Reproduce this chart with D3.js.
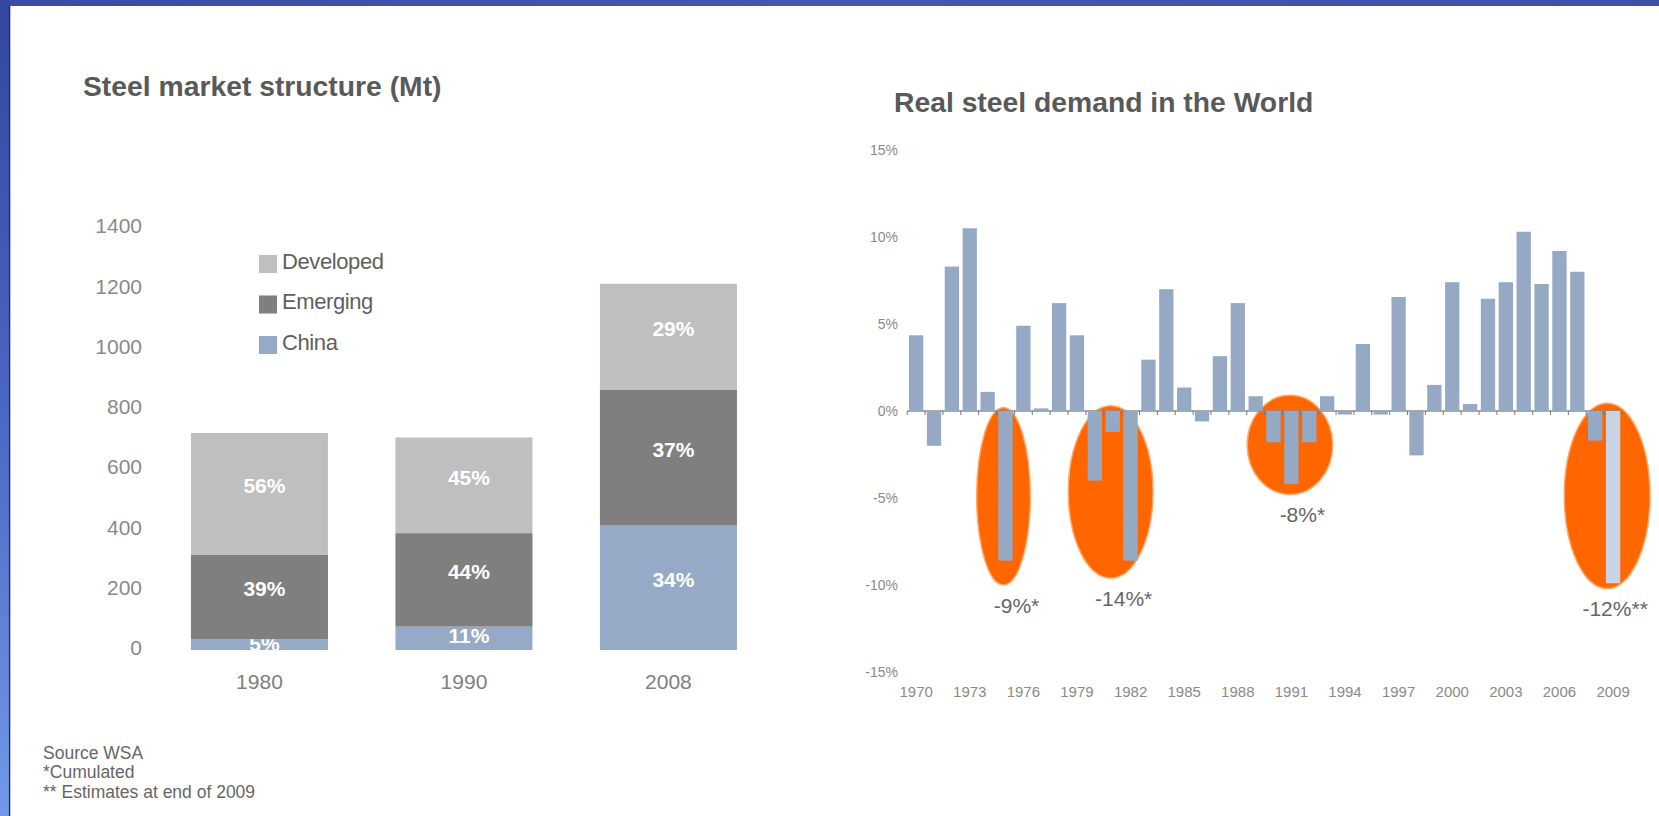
<!DOCTYPE html>
<html>
<head>
<meta charset="utf-8">
<script src="https://cdn.jsdelivr.net/npm/d3@7"></script>
<style>
  html, body { margin: 0; padding: 0; background: #fff; overflow: hidden; }
  svg { display: block; }
  text { font-family: "Liberation Sans", Arial, Helvetica, sans-serif; }
</style>
</head>
<body>
<svg id="chart" width="1659" height="816"></svg>
<script>
// ---------- Steel market structure (Mt) ----------
const marketYears = ["1980", "1990", "2008"];
const marketTotals = [720, 705, 1215];            // Mt
const chinaShare = [5, 11, 34];                   // % of total
const emergingShare = [39, 44, 37];
const developedShare = [56, 45, 29];
const marketTicks = [0, 200, 400, 600, 800, 1000, 1200, 1400];
const marketSeries = ["China", "Emerging", "Developed"];   // bottom to top
const legendOrder = ["Developed", "Emerging", "China"];

// ---------- Real steel demand in the World (annual % change) ----------
const demandYears = [1970, 1971, 1972, 1973, 1974, 1975, 1976, 1977, 1978, 1979,
                     1980, 1981, 1982, 1983, 1984, 1985, 1986, 1987, 1988, 1989,
                     1990, 1991, 1992, 1993, 1994, 1995, 1996, 1997, 1998, 1999,
                     2000, 2001, 2002, 2003, 2004, 2005, 2006, 2007, 2008, 2009];
const demandChange = [4.35, -2.0, 8.3, 10.5, 1.1, -8.6, 4.9, 0.15, 6.2, 4.35,
                      -4.0, -1.2, -8.6, 2.95, 7.0, 1.35, -0.6, 3.15, 6.2, 0.85,
                      -1.8, -4.2, -1.8, 0.85, -0.2, 3.85, -0.2, 6.55, -2.55, 1.5,
                      7.4, 0.4, 6.45, 7.4, 10.3, 7.3, 9.2, 8.0, -1.7, -9.9];
const estimateYears = [2009];
const yearTicks = [1970, 1973, 1976, 1979, 1982, 1985, 1988, 1991, 1994, 1997, 2000, 2003, 2006, 2009];
const pctTicks = [-15, -10, -5, 0, 5, 10, 15];
const crisisYears = [[1975], [1980, 1981, 1982], [1990, 1991, 1992], [2008, 2009]];
const crisisMarks = ["*", "*", "*", "**"];

const footnotes = ["Source WSA", "*Cumulated", "** Estimates at end of 2009"];

// highlight ellipse styling (in band steps / percentage points)
const haloPad = [1.1, 0.97, 0.99, 1.5];
const haloShift = [-2, -2, -1.5, 3];
const haloRise = [0.2, 0.3, 0.9, 0.45];
const haloDrop = [1.4, 1.0, 0.6, 0.3];

const svg = d3.select("#chart");

// ---------- slide frame ----------
const defs = svg.append("defs");
const lg = defs.append("linearGradient").attr("id", "sideGrad")
  .attr("x1", 0).attr("y1", 0).attr("x2", 0).attr("y2", 1);
lg.append("stop").attr("offset", 0).attr("stop-color", "#34469f");
lg.append("stop").attr("offset", 0.5).attr("stop-color", "#4c67c2");
lg.append("stop").attr("offset", 1).attr("stop-color", "#7298e6");
const tg = defs.append("linearGradient").attr("id", "topGrad")
  .attr("x1", 0).attr("y1", 0).attr("x2", 1).attr("y2", 0);
tg.append("stop").attr("offset", 0).attr("stop-color", "#3b4ba3");
tg.append("stop").attr("offset", 0.5).attr("stop-color", "#4857ae");
tg.append("stop").attr("offset", 1).attr("stop-color", "#3f50a8");

svg.append("rect").attr("x", 0).attr("y", 0).attr("width", 1659).attr("height", 6).attr("fill", "url(#topGrad)");
svg.append("rect").attr("x", 0).attr("y", 0).attr("width", 9).attr("height", 816).attr("fill", "url(#sideGrad)");
svg.append("line").attr("x1", 9.6).attr("x2", 9.6).attr("y1", 6).attr("y2", 816)
  .attr("stroke", "#1e2a76").attr("stroke-width", 1.4);

// ---------- left chart: stacked columns ----------
const shareBy = { China: chinaShare, Emerging: emergingShare, Developed: developedShare };
const colorL = d3.scaleOrdinal().domain(marketSeries).range(["#96aac7", "#7f7f7f", "#bfbfbf"]);

const rows = marketYears.map((yr, i) => {
  const r = { year: yr };
  marketSeries.forEach(k => { r[k] = marketTotals[i] * shareBy[k][i] / 100; });
  return r;
});
const stacked = d3.stack().keys(marketSeries)(rows);

const xL = d3.scaleBand().domain(marketYears).range([129.6, 798.3]).paddingInner(0.33).paddingOuter(0.3);
const yL = d3.scaleLinear().domain([0, 1400]).range([650, 228]);

svg.append("text").attr("x", 83).attr("y", 86).attr("dominant-baseline", "central")
  .attr("font-size", 28.3).attr("font-weight", "bold").attr("fill", "#595959")
  .text("Steel market structure (Mt)");

const gL = svg.append("g");
const yAxisL = gL.append("g").attr("transform", "translate(142,0)")
  .call(d3.axisLeft(yL).tickValues(marketTicks).tickFormat(d3.format("d")).tickSize(0).tickPadding(0));
yAxisL.select(".domain").remove();
yAxisL.selectAll("text").attr("y", -2).attr("font-size", 21).attr("fill", "#8a8a8a").attr("font-family", null);

const xAxisL = gL.append("g").attr("transform", "translate(0,650)")
  .call(d3.axisBottom(xL).tickSize(0).tickPadding(24));
xAxisL.select(".domain").remove();
xAxisL.selectAll("text").attr("font-size", 21).attr("fill", "#7f7f7f").attr("font-family", null);

// clip each column so the segment labels stay inside their bar
marketYears.forEach((yr, i) => {
  defs.append("clipPath").attr("id", "col" + i).append("rect")
    .attr("x", xL(yr)).attr("width", xL.bandwidth())
    .attr("y", yL(marketTotals[i])).attr("height", yL(0) - yL(marketTotals[i]));
});

stacked.forEach(layer => {
  const g = gL.append("g");
  g.selectAll("rect").data(layer).join("rect")
    .attr("x", d => xL(d.data.year))
    .attr("width", xL.bandwidth())
    .attr("y", d => yL(d[1]))
    .attr("height", d => yL(d[0]) - yL(d[1]))
    .attr("fill", colorL(layer.key));
  g.selectAll("text").data(layer).join("text")
    .attr("clip-path", (d, i) => "url(#col" + i + ")")
    .attr("x", d => xL(d.data.year) + xL.bandwidth() / 2 + 5)
    .attr("y", d => {
      const h = yL(d[0]) - yL(d[1]);
      return (yL(d[0]) + yL(d[1])) / 2 - Math.min(8, h * 0.1);
    })
    .attr("text-anchor", "middle").attr("dominant-baseline", "central")
    .attr("font-size", 21).attr("font-weight", "bold").attr("fill", "#ffffff")
    .text((d, i) => shareBy[layer.key][i] + "%");
});

// legend
const legend = gL.append("g").attr("transform", "translate(259,255)");
legendOrder.forEach((k, i) => {
  const row = legend.append("g").attr("transform", `translate(0,${i * 40.5})`);
  row.append("rect").attr("width", 18).attr("height", 18).attr("fill", colorL(k));
  row.append("text").attr("x", 23).attr("y", 6).attr("dominant-baseline", "central")
    .attr("font-size", 22).attr("fill", "#5f5f5f").attr("letter-spacing", -0.4).text(k);
});

// footnotes
footnotes.forEach((t, i) => {
  svg.append("text").attr("x", 43).attr("y", [753, 772, 792][i]).attr("dominant-baseline", "central")
    .attr("font-size", 17.5).attr("fill", "#666").text(t);
});

// ---------- right chart: annual change bars ----------
const xR = d3.scaleBand().domain(demandYears).range([907.2, 1622]).paddingInner(0.2).paddingOuter(0.1);
const yR = d3.scaleLinear().domain([-15, 15]).range([672, 150]);
const valueOf = new Map(demandYears.map((y, i) => [y, demandChange[i]]));

svg.append("text").attr("x", 894).attr("y", 102).attr("dominant-baseline", "central")
  .attr("font-size", 28.3).attr("font-weight", "bold").attr("fill", "#595959")
  .text("Real steel demand in the World");

const gR = svg.append("g");

// crisis highlights with cumulated change below
const crisisG = gR.append("g");
crisisYears.forEach((ys, i) => {
  const vals = ys.map(y => valueOf.get(y));
  const left = xR(ys[0]);
  const right = xR(ys[ys.length - 1]) + xR.bandwidth();
  const cx = (left + right) / 2 + haloShift[i];
  const rx = (right - left) / 2 + xR.step() * haloPad[i];
  const top = yR(haloRise[i]);
  const bottom = yR(d3.min(vals) - haloDrop[i]);
  crisisG.append("ellipse")
    .attr("cx", cx).attr("cy", (top + bottom) / 2)
    .attr("rx", rx).attr("ry", (bottom - top) / 2)
    .attr("fill", "#ff6600").attr("stroke", "#ffa868").attr("stroke-width", 1.5);
  gR.append("text")
    .attr("x", (left + right) / 2 + 11).attr("y", bottom + 20)
    .attr("text-anchor", "middle").attr("dominant-baseline", "central")
    .attr("font-size", 21).attr("fill", "#666")
    .text(Math.round(d3.sum(vals)) + "%" + crisisMarks[i]);
});

// zero line with boundary ticks
const zeroY = yR(0);
const gap = xR.step() - xR.bandwidth();
gR.append("line").attr("x1", xR.range()[0]).attr("x2", xR.range()[1])
  .attr("y1", zeroY).attr("y2", zeroY).attr("stroke", "#8c8c8c").attr("stroke-width", 1.5);
gR.append("g").selectAll("line").data(demandYears.concat([null])).join("line")
  .attr("x1", (d, i) => i < demandYears.length ? xR(d) - gap / 2 : xR(demandYears[i - 1]) + xR.bandwidth() + gap / 2)
  .attr("x2", (d, i) => i < demandYears.length ? xR(d) - gap / 2 : xR(demandYears[i - 1]) + xR.bandwidth() + gap / 2)
  .attr("y1", zeroY).attr("y2", zeroY + 4)
  .attr("stroke", "#7a7a7a").attr("stroke-width", 1);

// bars
gR.append("g").selectAll("rect").data(demandYears).join("rect")
  .attr("x", d => xR(d))
  .attr("width", xR.bandwidth())
  .attr("y", d => yR(Math.max(0, valueOf.get(d))))
  .attr("height", d => Math.abs(yR(valueOf.get(d)) - yR(0)))
  .attr("fill", d => estimateYears.includes(d) ? "#c8d3e3" : "#95a9c5");

// axes
const yAxisR = gR.append("g").attr("transform", "translate(898,0)")
  .call(d3.axisLeft(yR).tickValues(pctTicks).tickFormat(d => d + "%").tickSize(0).tickPadding(0));
yAxisR.select(".domain").remove();
yAxisR.selectAll("text").attr("font-size", 14).attr("fill", "#8a8a8a").attr("font-family", null);

const xAxisR = gR.append("g").attr("transform", "translate(0,672)")
  .call(d3.axisBottom(xR).tickValues(yearTicks).tickSize(0).tickPadding(14));
xAxisR.select(".domain").remove();
xAxisR.selectAll("text").attr("font-size", 15).attr("fill", "#8a8a8a").attr("font-family", null);
</script>
</body>
</html>
